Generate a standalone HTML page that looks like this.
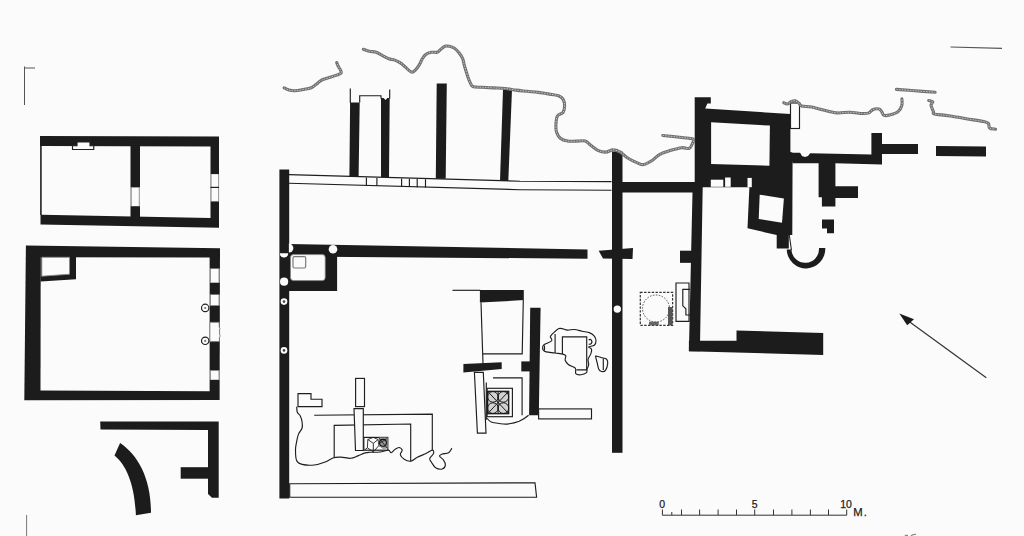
<!DOCTYPE html>
<html><head><meta charset="utf-8">
<style>
html,body{margin:0;padding:0;background:#fbfbfb;}
body{width:1024px;height:536px;overflow:hidden;}
svg{display:block;}
.w{fill:#1c1c1c;}
.t{fill:none;stroke:#1e1e1e;stroke-width:1.15;}
.tw{fill:#fbfbfb;stroke:#1e1e1e;stroke-width:1.15;}
.g{fill:none;stroke:#717171;stroke-width:3.1;stroke-linejoin:round;stroke-linecap:round;}
.gd{fill:none;stroke:#c4c4c4;stroke-width:1;stroke-dasharray:1.5 1.2;}
.f{fill:#fbfbfb;}
text{font-family:"Liberation Sans",sans-serif;fill:#222;}
</style></head>
<body>
<svg width="1024" height="536" viewBox="0 0 1024 536">
<!-- corner marks -->
<path d="M24.5 66.5V105M24 68H35" stroke="#555" stroke-width="1" fill="none"/>
<path d="M26.6 515V536" stroke="#777" stroke-width="1" fill="none"/>
<path d="M950.5 47L1002 48.3" stroke="#555" stroke-width="1.2" fill="none"/>

<!-- ROOM A -->
<polygon class="w" points="40,136 219,136.5 219,227.7 40.5,224.6 40.5,214.8 40.5,146 40,146"/>
<polygon class="f" points="41.5,146 210.5,146.5 210.5,218 41.5,214.8"/>
<line x1="40.8" y1="146" x2="40.8" y2="215" stroke="#222" stroke-width="1.2"/>
<rect class="w" x="130.5" y="146" width="9.5" height="72"/>
<rect class="f" x="130.5" y="187.4" width="9.5" height="18.8"/><path d="M131.3 187.4V206.2M139.3 187.4V206.2" stroke="#777" stroke-width="0.8"/>
<rect class="f" x="210.5" y="174.1" width="8.6" height="27.3"/><path d="M211.1 174.1V201.4M218.6 174.1V201.4" stroke="#777" stroke-width="0.8"/><path d="M210.5 187.4H219" stroke="#1e1e1e" stroke-width="1.2"/>
<polygon class="tw" points="77,142 90,142 90,145.75 93.75,145.75 93.75,149.5 72.5,149.5 72.5,145.75 77,145.75"/>

<!-- ROOM B -->
<polygon class="w" points="25.9,245.4 220,248.2 219.6,400 24.3,400.3"/>
<polygon class="f" points="40.7,257.3 209.6,257.4 209.6,391.3 40.5,390.4"/>
<polygon class="w" points="40.5,256 76,256 76,279.2 40.5,281.5"/>
<polygon points="41.8,257.3 69.5,257.3 69.5,274.2 41.8,276.2" fill="#fbfbfb" stroke="#8a8a8a" stroke-width="0.9"/>
<rect class="f" x="209.9" y="268.6" width="9.6" height="14.1"/><path d="M210.5 268.6V282.7M219 268.6V282.7" stroke="#777" stroke-width="0.8"/>
<rect class="f" x="209.9" y="294.6" width="9.6" height="10.9"/><path d="M210.5 294.6V305.5M219 294.6V305.5" stroke="#777" stroke-width="0.8"/>
<path class="f" d="M209.9 322.3H219.2V327Q220.5 328 219.6 330V334Q220.8 336 219.4 338V341.6H209.9Z" stroke="#777" stroke-width="0.8"/>
<rect class="f" x="209.9" y="370.5" width="9.6" height="9.3"/><path d="M210.5 370.5V379.8M219 370.5V379.8" stroke="#777" stroke-width="0.8"/>
<circle class="tw" cx="205.2" cy="307.9" r="3.7"/><circle cx="205.2" cy="308" r="1.1" fill="#777"/>
<circle class="tw" cx="205.2" cy="340.8" r="3.7"/><circle cx="205.2" cy="340.9" r="1.1" fill="#777"/>

<!-- bottom-left fragment -->
<polygon class="w" points="100.2,421.6 218.7,421.6 218.7,497.7 212,497.7 208,494 208,430 100.5,429.5"/>
<rect class="w" x="180.7" y="467.2" width="27.3" height="11.5"/>
<path class="w" d="M120.1,442.9 C138,455 151,478 151,512.7 L135.9,515.2 C134.5,485 127,466 114.5,455.6 Z"/>

<!-- CENTRAL COMPLEX -->
<rect class="w" x="279.4" y="169.5" width="9.8" height="329"/>
<!-- pillars -->
<polygon class="w" points="350.1,102.4 359.7,102.4 358.6,176.5 349.4,176.5"/>
<polygon class="w" points="381,97.9 383.5,97.9 385.5,100 387.5,97.9 389.7,97.9 389,177 381,177"/>
<polygon class="w" points="436.7,83.4 446.8,83.4 445.7,178.8 435.8,178.8"/>
<polygon class="w" points="503,89.4 512,89.4 508.3,180.9 500,180.9"/>
<path class="t" d="M350.3 88.5V103M389.7 89.4V98.5M359.7 102.5V95.7H381V98.5"/>
<!-- threshold strip -->
<path class="t" d="M289 174.6L520 181.2L611.5 181.6M289 183.2L520 189.7L611.5 190.3"/>
<path class="t" d="M366.4 177.6V185.8M376.9 177.9V186.1M401.6 178.6V186.8M409.4 178.8V187M417.2 179V187.2M425.5 179.3V187.5"/>
<!-- horizontal wall -->
<polygon class="w" points="289,244 587.5,249.5 587.5,258.7 289,256.5"/>
<polygon class="w" points="598.7,250.7 633,248 632.5,258.9 603,258.4"/>
<rect class="w" x="612" y="151.5" width="10.5" height="301.3"/>
<!-- box -->
<rect class="w" x="289" y="255" width="48.1" height="36"/>
<rect class="f" x="290.5" y="254.6" width="34.7" height="26" rx="3" stroke="#888" stroke-width="0.8"/>
<rect class="tw" x="293" y="256.6" width="12.7" height="11.4" rx="1.5" style="stroke:#777"/>
<path class="f" d="M279.8,253.3 A4.2,4.2 0 0 0 288.2,253.3 Z"/>
<path class="f" d="M288.9,243.6 A4.5,4.5 0 0 1 288.9,252.6 Z"/>
<circle class="f" cx="333" cy="249.2" r="4.3"/>
<circle class="f" cx="284.1" cy="281.7" r="4.1"/>
<circle class="f" cx="284" cy="301.6" r="3.3"/>
<circle cx="284" cy="301.6" r="1.3" fill="#444"/>
<circle class="f" cx="284" cy="350.4" r="3.3"/>
<circle cx="284" cy="350.4" r="1.3" fill="#444"/>
<!-- bottom threshold -->
<polygon class="tw" points="289.7,483.75 535,482.8 536.6,497.2 289.7,497.2"/>

<!-- lower-left room drawings -->
<polygon class="t" points="298,393.6 311,393.6 311,399.2 322,399.2 322,406.6 298,406.6"/>
<rect class="t" x="355.6" y="378.4" width="8.9" height="28.2"/>
<polyline class="t" points="314.2,415.3 432.3,414.1 432.3,450.1"/>
<polyline class="t" points="334.2,457.7 334.2,425.4 410.7,424 410.7,461.2"/>
<polygon class="tw" points="354,408.6 363.3,408.6 363.3,450.5 355.5,450.5"/>
<path class="t" d="M296.7 406.6 C296.8 407.6 296.7 410.8 297.3 412.3 C297.9 413.9 299.5 414.3 300.3 415.9 C301.1 417.5 301.8 420.0 302.1 422.0 C302.4 424.0 302.7 426.0 302.1 428.0 C301.5 430.0 299.4 431.9 298.5 434.1 C297.6 436.3 297.2 438.8 296.7 441.4 C296.2 444.0 295.5 446.6 295.5 449.8 C295.5 453.0 295.6 458.4 296.7 460.8 C297.8 463.2 299.2 463.7 302.1 464.4 C305.0 465.1 310.4 465.4 314.2 465.0 C318.0 464.6 322.0 463.2 325.2 462.0 C328.4 460.8 331.0 458.5 333.6 457.7 C336.2 456.9 338.1 457.0 340.9 457.1 C343.7 457.2 347.8 458.5 350.6 458.3 C353.4 458.1 355.5 456.8 357.9 455.9 C360.3 455.0 363.2 453.5 365.2 452.9 C367.2 452.3 367.5 452.4 370.0 452.3 C372.5 452.2 376.9 452.4 380.0 452.0 C383.1 451.6 386.4 450.0 388.3 450.1 C390.2 450.2 390.0 452.8 391.1 452.7 C392.2 452.6 393.7 450.3 395.0 449.4 C396.3 448.5 397.8 447.4 399.0 447.5 C400.2 447.6 402.0 448.9 402.2 450.1 C402.4 451.3 400.0 453.2 400.3 454.7 C400.6 456.2 402.5 458.1 404.2 459.2 C405.9 460.3 408.5 461.5 410.7 461.2 C412.9 460.9 414.7 458.6 417.3 457.3 C419.9 456.0 423.9 454.5 426.4 453.3 C428.9 452.1 431.1 450.1 432.3 450.1 C433.5 450.1 434.0 451.9 433.6 453.3 C433.2 454.7 430.0 457.1 429.7 458.6 C429.4 460.1 430.6 461.0 431.6 462.5 C432.6 464.0 433.9 466.6 435.6 467.7 C437.4 468.8 440.5 469.4 442.1 469.0 C443.7 468.6 445.2 466.6 445.4 465.1 C445.6 463.6 444.4 461.4 443.4 459.9 C442.4 458.4 439.7 457.0 439.5 456.0 C439.3 455.0 440.6 454.6 442.1 454.0 C443.6 453.4 447.0 453.7 448.6 452.7 C450.2 451.7 451.3 448.9 451.9 448.1"/>
<!-- mosaic 1 -->
<rect x="363.8" y="437.4" width="24" height="12.8" fill="#fbfbfb" stroke="#1e1e1e" stroke-width="1.2"/>
<path d="M367.8 439.5L373.3 437.4L378.1 439.5L378.8 445.7L373.3 451.9L367.4 447.8ZM373.3 443.3V451.9M367.8 439.5L373.3 443.3L378.1 439.5M367.4 447.8L364.5 450M378.8 445.7L384.7 447.8" fill="none" stroke="#222" stroke-width="0.9"/>
<path d="M378.8 437.6H387.6V448.5L383 449L378.8 445.7Z" fill="#9a9a9a"/>
<circle cx="383" cy="442.8" r="3.4" fill="none" stroke="#111" stroke-width="1.1"/>
<path d="M379 438L387 448M387 438.5L380 443" stroke="#111" stroke-width="0.8"/>

<!-- MIDDLE LOWER BUILDING -->
<path class="t" d="M452.5 290.3H480.3"/>
<polygon class="w" points="479.9,290 523.8,290 523.8,300.1 479.9,302.6"/>
<polyline class="t" points="481,302.6 483,364"/>
<polyline class="t" points="482.7,353.8 522.2,353.8 523.3,300.1"/>
<polygon class="w" points="530.2,307.7 540.6,307.7 538.8,415.2 529.1,415.2"/>
<polygon class="w" points="463.4,363.9 501.7,362.2 501.7,368.9 463.4,372.6"/>
<rect class="w" x="521.3" y="361.4" width="9.2" height="10"/>
<polygon class="tw" points="474.4,372.3 483.3,372.3 486,433.1 477.4,433.1"/>
<rect class="tw" x="538.6" y="408.9" width="52.9" height="10"/>
<polyline class="t" points="493,377.9 522.1,377.9 522.1,415.2"/><path class="t" d="M487.1,418.2 C489,421 491,422.3 493.8,422.7 C498,423.5 503,424.5 507.2,424.1 C512,423.5 516,422.5 519.2,421.2 C523,419.5 526,417.5 528.6,415.2"/>
<path class="t" d="M486.3 382.4V419.7"/>
<rect class="tw" x="487.1" y="388.3" width="25.3" height="28.4"/>
<rect x="487.6" y="391.3" width="21.1" height="22.4" fill="#d2d2d2" stroke="#1a1a1a" stroke-width="1.3"/>
<g fill="none" stroke="#1a1a1a" stroke-width="1">
<circle cx="492.9" cy="396.9" r="5.3"/><circle cx="503.4" cy="396.9" r="5.3"/>
<circle cx="492.9" cy="408.1" r="5.3"/><circle cx="503.4" cy="408.1" r="5.3"/>
<path d="M487.6 391.3L508.7 413.7M508.7 391.3L487.6 413.7M498.1 391.3L498.1 413.7"/>
</g>
<!-- blob -->
<path class="t" d="M550.1 336.8 C550.6 336.2 551.3 334.8 552.9 333.4 C554.5 332.0 557.2 328.9 559.6 328.4 C562.0 327.8 565.0 329.9 567.4 330.1 C569.8 330.3 571.8 329.3 574.2 329.5 C576.6 329.7 579.4 330.6 582.0 331.2 C584.6 331.8 587.8 332.1 589.8 332.9 C591.8 333.7 593.3 334.9 594.3 336.2 C595.3 337.5 596.0 339.2 596.0 340.7 C596.0 342.2 595.5 344.2 594.3 345.2 C593.1 346.2 589.2 346.2 588.7 346.9 C588.2 347.5 591.1 348.0 591.5 349.1 C591.9 350.2 591.5 351.9 590.9 353.6 C590.3 355.3 588.5 357.3 588.1 359.2 C587.7 361.1 588.9 363.1 588.7 364.8 C588.5 366.5 587.4 367.9 587.0 369.2 C586.6 370.5 587.5 371.7 586.5 372.6 C585.5 373.5 582.7 374.6 580.9 374.8 C579.1 375.0 576.7 374.8 575.8 373.7 C574.9 372.6 576.5 369.6 575.3 368.1 C574.1 366.6 570.3 366.1 568.6 364.8 C566.9 363.5 565.7 361.8 565.2 360.3 C564.7 358.8 566.2 356.8 565.8 355.8 C565.4 354.8 564.8 354.6 563.0 354.1 C561.2 353.6 557.9 353.4 555.1 353.0 C552.3 352.6 548.2 352.4 546.2 351.9 C544.2 351.4 544.0 351.1 543.4 350.2 C542.8 349.3 542.5 347.3 542.8 346.3 C543.1 345.3 543.6 345.0 545.1 344.1 C546.6 343.2 551.0 341.9 551.8 340.7 C552.6 339.5 550.4 337.4 550.1 336.8"/>
<path class="t" d="M562.4,354.1 V336.8 H586.7 V369.8 H576.4"/>
<path class="t" d="M555.1,334 V353 M544.5,345.5 V350.5 M588.7,340 Q591,338 592,342 Q591,345 588.7,344"/>
<path class="t" d="M595.4 355.8 C596.3 356.1 599.1 356.9 601.0 357.5 C602.9 358.1 605.5 358.2 606.6 359.2 C607.7 360.2 607.9 361.8 607.7 363.6 C607.5 365.5 606.5 369.0 605.5 370.3 C604.5 371.6 602.7 371.7 601.6 371.5 C600.5 371.3 599.5 370.7 598.8 369.2 C598.0 367.7 597.7 364.7 597.1 362.5 C596.5 360.3 595.7 356.9 595.4 355.8"/>
<path class="t" d="M603.3,358.5 V370"/>

<!-- cross/right L -->
<rect class="w" x="680.8" y="251.2" width="19" height="11"/>
<polygon class="w" points="688.9,340.8 736.5,340.8 736.5,330.6 823.2,333 823.2,355 688.9,351.3"/>
<polygon class="tw" points="676,283 689,283 689,321.3 676,321.3"/>
<polyline class="t" points="690,289.4 682.8,289.4 682.8,305.8 685.9,308.8 685.9,315 690,315"/>
<rect x="640.3" y="292.4" width="32.3" height="32.9" fill="none" stroke="#333" stroke-width="1.2" stroke-dasharray="2.4 1.4"/>
<rect x="668" y="307" width="4.6" height="18.3" fill="#555"/>
<rect x="649" y="321.7" width="9.7" height="3.6" fill="#666"/>
<circle cx="656" cy="308.5" r="13.5" fill="none" stroke="#555" stroke-width="1" stroke-dasharray="1.6 1.4"/>
<circle class="f" cx="617.3" cy="309.1" r="3.7"/>

<!-- RIGHT COMPLEX -->
<!-- main block -->
<polygon class="w" points="694.7,97.2 710.8,97.2 710.8,103.6 707.4,103.6 705.2,108.4 790.4,114 790.4,152.1 792.6,152.7 792.3,235 788.8,235 788.8,248.5 776.7,248.5 776.7,235 747.5,228.3 749.4,187.2 702.7,187.2 699.9,351.3 688.9,351.3 692.5,192.5 622,192.5 622,182 694.7,182"/>
<polygon class="f" points="711.1,122.2 769.9,125.6 769.4,165.7 711.1,163.9"/>
<rect class="f" x="710.8" y="179.7" width="12.5" height="7.1"/>
<rect class="f" x="725.1" y="177.5" width="5.6" height="9.3"/>
<rect class="f" x="747.5" y="177.9" width="4.3" height="9.3"/>
<polygon class="f" points="759.7,194.7 783.9,198.4 782,222.7 758.7,218.9"/>
<rect class="w" x="680" y="250.7" width="12" height="12.1"/>
<!-- arm -->
<polygon class="w" points="790,152.7 800.1,152.7 802,156 805,157 808,156 810.2,153.2 871.4,154.4 871.4,133 882,133 882,144.3 905,144.3 905,152.7 882,152.7 882,164.4 835.4,163.3 835.4,186.3 858,186.3 858,198 835.4,198 835.4,206.4 821.9,206.4 821.9,197.2 818.6,197.2 818.6,163.3 792.6,163.3"/>
<rect class="w" x="881.75" y="144" width="36.25" height="10"/>
<polygon class="w" points="936,146 986,146.5 986,156.5 936,156"/>
<polygon class="w" points="822,219.4 834,219.4 834,233.2 827,233.2 827,228.4 822,228.4"/>
<!-- arc -->
<path class="w" d="M786.7,249.6 A19.3,19.6 0 0 0 825.3,248 L819,248 A13.8,14 0 0 1 791.4,249.6 Z"/>
<path d="M789.3,235 L791.4,250" stroke="#222" stroke-width="1.1" fill="none"/>
<rect class="tw" x="790.5" y="103" width="9" height="25.5"/>

<!-- wavy lines -->
<g>
<path class="g" d="M284.1 87.8 C284.9 88.2 287.2 89.6 289.0 90.1 C290.8 90.6 292.7 90.9 294.9 90.8 C297.1 90.7 299.7 90.2 302.4 89.7 C305.1 89.2 308.8 88.8 311.3 87.8 C313.8 86.8 315.6 84.7 317.3 83.4 C319.1 82.1 319.9 80.9 321.8 80.0 C323.7 79.1 326.0 78.6 328.5 77.8 C331.0 77.0 334.6 75.9 336.7 75.1 C338.8 74.3 340.6 73.8 341.2 72.9 C341.8 72.0 340.9 71.0 340.4 69.9 C339.9 68.8 338.8 67.4 338.2 66.2 C337.6 65.0 336.9 63.1 336.7 62.5"/>
<path class="gd" d="M284.1 87.8 C284.9 88.2 287.2 89.6 289.0 90.1 C290.8 90.6 292.7 90.9 294.9 90.8 C297.1 90.7 299.7 90.2 302.4 89.7 C305.1 89.2 308.8 88.8 311.3 87.8 C313.8 86.8 315.6 84.7 317.3 83.4 C319.1 82.1 319.9 80.9 321.8 80.0 C323.7 79.1 326.0 78.6 328.5 77.8 C331.0 77.0 334.6 75.9 336.7 75.1 C338.8 74.3 340.6 73.8 341.2 72.9 C341.8 72.0 340.9 71.0 340.4 69.9 C339.9 68.8 338.8 67.4 338.2 66.2 C337.6 65.0 336.9 63.1 336.7 62.5"/>
<path class="g" d="M363.4 49.3 C364.4 49.6 367.3 50.7 369.4 51.2 C371.5 51.7 374.0 51.6 376.1 52.3 C378.2 53.0 380.0 54.2 382.1 55.3 C384.2 56.4 386.7 57.9 388.8 58.7 C390.9 59.5 392.8 59.4 394.8 60.1 C396.8 60.8 399.0 62.0 400.7 63.1 C402.4 64.2 403.4 65.4 405.2 66.9 C407.0 68.4 409.6 71.6 411.4 72.1 C413.1 72.6 414.4 71.0 415.7 69.7 C417.0 68.5 418.3 66.4 419.4 64.6 C420.5 62.8 421.3 60.4 422.4 58.7 C423.4 57.0 424.2 55.7 425.7 54.6 C427.2 53.5 429.4 52.7 431.3 52.3 C433.2 51.9 435.8 52.7 437.3 52.3 C438.8 51.9 439.1 50.7 440.3 49.7 C441.6 48.7 443.3 46.9 444.8 46.3 C446.3 45.7 447.7 46.0 449.3 46.3 C450.9 46.6 452.9 47.1 454.5 48.2 C456.1 49.3 457.6 51.0 459.0 52.7 C460.4 54.5 461.8 56.5 462.7 58.7 C463.6 60.9 463.6 63.0 464.5 66.0 C465.4 69.0 466.8 73.8 467.8 76.7 C468.8 79.6 469.7 81.7 470.6 83.4 C471.5 85.1 471.4 86.2 473.4 86.8 C475.4 87.4 479.0 87.1 482.4 87.3 C485.8 87.5 489.9 87.7 493.6 87.9 C497.3 88.1 501.1 88.1 504.8 88.5 C508.5 88.9 512.3 89.6 516.0 90.1 C519.7 90.6 523.4 90.9 527.1 91.3 C530.8 91.7 534.6 91.9 538.3 92.4 C542.0 92.9 546.1 93.5 549.5 94.1 C552.9 94.6 556.2 94.9 558.5 95.7 C560.8 96.5 562.0 97.4 563.0 99.1 C564.0 100.8 564.6 103.6 564.6 105.8 C564.6 108.0 564.2 110.8 563.0 112.5 C561.8 114.2 558.6 113.8 557.4 115.9 C556.2 118.0 556.0 122.3 555.9 125.0 C555.8 127.7 555.9 130.1 556.6 132.3 C557.3 134.5 558.5 136.7 560.3 138.2 C562.1 139.7 564.9 140.6 567.6 141.1 C570.3 141.6 573.5 141.1 576.4 141.1 C579.3 141.1 582.8 140.4 585.2 141.1 C587.6 141.8 588.8 143.9 591.0 145.5 C593.2 147.1 595.8 149.5 598.3 150.6 C600.8 151.7 603.2 152.2 605.7 152.1 C608.2 152.0 610.6 149.9 613.0 149.9 C615.4 149.9 617.9 150.8 620.3 152.1 C622.7 153.4 624.7 156.2 627.6 158.0 C630.5 159.8 635.2 162.0 637.9 163.1 C640.6 164.2 641.3 165.0 643.7 164.5 C646.1 164.0 649.8 161.9 652.5 160.2 C655.2 158.5 657.0 155.9 659.9 154.3 C662.8 152.7 666.5 151.7 670.1 150.6 C673.8 149.5 678.6 148.1 681.8 147.7 C685.0 147.3 687.4 149.2 689.2 148.4 C691.0 147.6 692.2 144.2 692.8 142.6 C693.4 141.0 694.6 139.8 692.8 138.9 C691.0 138.1 686.8 138.1 681.8 137.5 C676.8 136.9 666.0 135.8 662.8 135.5"/>
<path class="gd" d="M363.4 49.3 C364.4 49.6 367.3 50.7 369.4 51.2 C371.5 51.7 374.0 51.6 376.1 52.3 C378.2 53.0 380.0 54.2 382.1 55.3 C384.2 56.4 386.7 57.9 388.8 58.7 C390.9 59.5 392.8 59.4 394.8 60.1 C396.8 60.8 399.0 62.0 400.7 63.1 C402.4 64.2 403.4 65.4 405.2 66.9 C407.0 68.4 409.6 71.6 411.4 72.1 C413.1 72.6 414.4 71.0 415.7 69.7 C417.0 68.5 418.3 66.4 419.4 64.6 C420.5 62.8 421.3 60.4 422.4 58.7 C423.4 57.0 424.2 55.7 425.7 54.6 C427.2 53.5 429.4 52.7 431.3 52.3 C433.2 51.9 435.8 52.7 437.3 52.3 C438.8 51.9 439.1 50.7 440.3 49.7 C441.6 48.7 443.3 46.9 444.8 46.3 C446.3 45.7 447.7 46.0 449.3 46.3 C450.9 46.6 452.9 47.1 454.5 48.2 C456.1 49.3 457.6 51.0 459.0 52.7 C460.4 54.5 461.8 56.5 462.7 58.7 C463.6 60.9 463.6 63.0 464.5 66.0 C465.4 69.0 466.8 73.8 467.8 76.7 C468.8 79.6 469.7 81.7 470.6 83.4 C471.5 85.1 471.4 86.2 473.4 86.8 C475.4 87.4 479.0 87.1 482.4 87.3 C485.8 87.5 489.9 87.7 493.6 87.9 C497.3 88.1 501.1 88.1 504.8 88.5 C508.5 88.9 512.3 89.6 516.0 90.1 C519.7 90.6 523.4 90.9 527.1 91.3 C530.8 91.7 534.6 91.9 538.3 92.4 C542.0 92.9 546.1 93.5 549.5 94.1 C552.9 94.6 556.2 94.9 558.5 95.7 C560.8 96.5 562.0 97.4 563.0 99.1 C564.0 100.8 564.6 103.6 564.6 105.8 C564.6 108.0 564.2 110.8 563.0 112.5 C561.8 114.2 558.6 113.8 557.4 115.9 C556.2 118.0 556.0 122.3 555.9 125.0 C555.8 127.7 555.9 130.1 556.6 132.3 C557.3 134.5 558.5 136.7 560.3 138.2 C562.1 139.7 564.9 140.6 567.6 141.1 C570.3 141.6 573.5 141.1 576.4 141.1 C579.3 141.1 582.8 140.4 585.2 141.1 C587.6 141.8 588.8 143.9 591.0 145.5 C593.2 147.1 595.8 149.5 598.3 150.6 C600.8 151.7 603.2 152.2 605.7 152.1 C608.2 152.0 610.6 149.9 613.0 149.9 C615.4 149.9 617.9 150.8 620.3 152.1 C622.7 153.4 624.7 156.2 627.6 158.0 C630.5 159.8 635.2 162.0 637.9 163.1 C640.6 164.2 641.3 165.0 643.7 164.5 C646.1 164.0 649.8 161.9 652.5 160.2 C655.2 158.5 657.0 155.9 659.9 154.3 C662.8 152.7 666.5 151.7 670.1 150.6 C673.8 149.5 678.6 148.1 681.8 147.7 C685.0 147.3 687.4 149.2 689.2 148.4 C691.0 147.6 692.2 144.2 692.8 142.6 C693.4 141.0 694.6 139.8 692.8 138.9 C691.0 138.1 686.8 138.1 681.8 137.5 C676.8 136.9 666.0 135.8 662.8 135.5"/>
<path class="g" d="M783.8 102.7 C784.4 102.9 786.3 104.2 787.6 104.0 C788.9 103.8 790.1 101.9 791.4 101.4 C792.7 100.9 793.9 100.5 795.2 100.8 C796.5 101.1 797.9 102.4 799.0 103.3 C800.1 104.2 799.5 105.3 801.6 105.9 C803.7 106.5 807.9 106.4 811.7 107.1 C815.5 107.8 820.2 109.3 824.4 110.3 C828.6 111.3 832.9 112.6 837.1 112.9 C841.3 113.2 845.6 112.1 849.8 112.2 C854.0 112.3 859.3 113.4 862.5 113.5 C865.7 113.6 867.2 113.5 868.9 112.9 C870.6 112.3 871.0 110.4 872.7 109.7 C874.4 109.0 877.5 108.7 879.0 109.0 C880.5 109.3 880.8 110.5 881.6 111.6 C882.5 112.7 882.6 114.9 884.1 115.4 C885.6 115.9 888.1 115.4 890.4 114.8 C892.7 114.2 896.2 113.2 898.1 111.6 C900.0 110.0 901.3 107.3 901.9 105.2 C902.5 103.1 901.9 100.0 901.9 98.9"/>
<path class="gd" d="M783.8 102.7 C784.4 102.9 786.3 104.2 787.6 104.0 C788.9 103.8 790.1 101.9 791.4 101.4 C792.7 100.9 793.9 100.5 795.2 100.8 C796.5 101.1 797.9 102.4 799.0 103.3 C800.1 104.2 799.5 105.3 801.6 105.9 C803.7 106.5 807.9 106.4 811.7 107.1 C815.5 107.8 820.2 109.3 824.4 110.3 C828.6 111.3 832.9 112.6 837.1 112.9 C841.3 113.2 845.6 112.1 849.8 112.2 C854.0 112.3 859.3 113.4 862.5 113.5 C865.7 113.6 867.2 113.5 868.9 112.9 C870.6 112.3 871.0 110.4 872.7 109.7 C874.4 109.0 877.5 108.7 879.0 109.0 C880.5 109.3 880.8 110.5 881.6 111.6 C882.5 112.7 882.6 114.9 884.1 115.4 C885.6 115.9 888.1 115.4 890.4 114.8 C892.7 114.2 896.2 113.2 898.1 111.6 C900.0 110.0 901.3 107.3 901.9 105.2 C902.5 103.1 901.9 100.0 901.9 98.9"/>
<path class="g" d="M896.4 89.4 C899.5 89.6 908.5 90.3 915.0 90.8 C921.5 91.3 931.8 92.0 935.1 92.3"/>
<path class="gd" d="M896.4 89.4 C899.5 89.6 908.5 90.3 915.0 90.8 C921.5 91.3 931.8 92.0 935.1 92.3"/>
<path class="g" d="M928.7 100.5 C929.4 100.7 932.4 100.9 932.8 101.7 C933.2 102.5 930.9 103.6 931.0 105.2 C931.1 106.8 932.8 110.1 933.4 111.6 C934.0 113.1 932.0 113.3 934.5 114.0 C937.0 114.7 943.3 114.9 948.6 115.7 C953.9 116.5 960.3 117.7 966.2 118.7 C972.1 119.7 980.1 120.8 983.8 121.6 C987.5 122.4 987.4 122.3 988.4 123.4 C989.4 124.5 988.4 127.0 989.6 128.0 C990.8 129.0 994.5 129.0 995.5 129.2"/>
<path class="gd" d="M928.7 100.5 C929.4 100.7 932.4 100.9 932.8 101.7 C933.2 102.5 930.9 103.6 931.0 105.2 C931.1 106.8 932.8 110.1 933.4 111.6 C934.0 113.1 932.0 113.3 934.5 114.0 C937.0 114.7 943.3 114.9 948.6 115.7 C953.9 116.5 960.3 117.7 966.2 118.7 C972.1 119.7 980.1 120.8 983.8 121.6 C987.5 122.4 987.4 122.3 988.4 123.4 C989.4 124.5 988.4 127.0 989.6 128.0 C990.8 129.0 994.5 129.0 995.5 129.2"/>
</g>

<!-- arrow -->
<path d="M907 320L986.3 377.7" stroke="#333" stroke-width="1.2"/>
<polygon points="899.3,313.6 914,319.3 907.2,325.3" fill="#1a1a1a"/>

<!-- scale bar -->
<path d="M662.4 515.2H846.7M662.4 509.5V515.2M671.8 512V515.2M681.5 509.5V515.2M699.6 509.5V515.2M718.1 509.5V515.2M736.5 509.5V515.2M754.7 509.5V515.2M773.5 509.5V515.2M791.9 509.5V515.2M810.4 509.5V515.2M828.5 509.5V515.2M846.7 509.5V515.2" stroke="#333" stroke-width="1" fill="none"/>
<text x="662.2" y="508" font-size="10.5" text-anchor="middle" stroke="#222" stroke-width="0.25">0</text>
<text x="754.7" y="508" font-size="10.5" text-anchor="middle" stroke="#222" stroke-width="0.25">5</text>
<text x="846" y="508" font-size="10.5" text-anchor="middle" stroke="#222" stroke-width="0.25">10</text>
<text x="853.3" y="516.2" font-size="11.3" stroke="#222" stroke-width="0.25" letter-spacing="1">M.</text>
<rect x="904.8" y="534.8" width="3.2" height="1.2" fill="#8a8a8a"/><path d="M911 536Q912 534.2 916 534.3" stroke="#8a8a8a" stroke-width="1.3" fill="none"/>
</svg>
</body></html>
